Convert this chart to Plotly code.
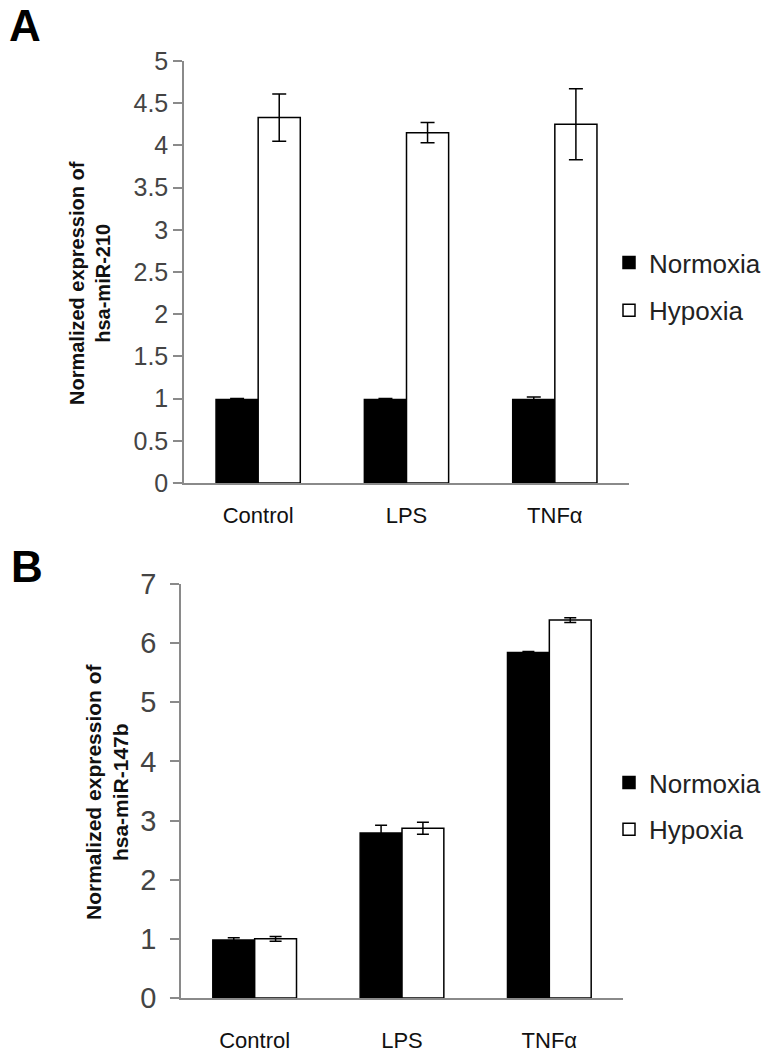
import plotly.graph_objects as go

# ---- data ----
categories = ["Control", "LPS", "TNFα"]

a_normoxia = [0.99, 0.99, 0.99]
a_normoxia_err = [0.01, 0.01, 0.03]
a_hypoxia = [4.33, 4.15, 4.25]
a_hypoxia_err = [0.28, 0.12, 0.42]

b_normoxia = [0.98, 2.79, 5.84]
b_normoxia_err = [0.04, 0.13, 0.02]
b_hypoxia = [1.00, 2.87, 6.39]
b_hypoxia_err = [0.04, 0.10, 0.04]

a_yticks = [0, 0.5, 1, 1.5, 2, 2.5, 3, 3.5, 4, 4.5, 5]
a_yticklabels = ["0", "0.5", "1", "1.5", "2", "2.5", "3", "3.5", "4", "4.5", "5"]
b_yticks = [0, 1, 2, 3, 4, 5, 6, 7]
b_yticklabels = ["0", "1", "2", "3", "4", "5", "6", "7"]

W, H = 780, 1054
FONT = "Liberation Sans, Arial, sans-serif"


def px_x(p):
    return p / W


def px_y(p):
    return 1 - p / H


fig = go.Figure()


def add_bars(xa, ya, norm, norm_err, hyp, hyp_err, legend, cap):
    fig.add_trace(go.Bar(
        x=categories, y=norm, name="Normoxia", xaxis=xa, yaxis=ya,
        marker=dict(color="black", line=dict(color="black", width=1.5)),
        error_y=dict(type="data", array=norm_err, color="black", thickness=1.5, width=cap),
        legend=legend, legendgroup=legend + "n", showlegend=True,
    ))
    fig.add_trace(go.Bar(
        x=categories, y=hyp, name="Hypoxia", xaxis=xa, yaxis=ya,
        marker=dict(color="white", line=dict(color="black", width=1.5)),
        error_y=dict(type="data", array=hyp_err, color="black", thickness=1.5, width=cap),
        legend=legend, legendgroup=legend + "h", showlegend=True,
    ))


add_bars("x", "y", a_normoxia, a_normoxia_err, a_hypoxia, a_hypoxia_err, "legend", 7)
add_bars("x2", "y2", b_normoxia, b_normoxia_err, b_hypoxia, b_hypoxia_err, "legend2", 6)

axis_gray = "#8a8a8a"

common_x = dict(showline=True, linecolor=axis_gray, linewidth=1.5, ticks="", showgrid=False,
                zeroline=False, automargin=False, tickfont=dict(size=22, color="#111"))
common_y = dict(showline=True, linecolor=axis_gray, linewidth=1.5, ticks="outside", ticklen=9,
                tickcolor=axis_gray, tickwidth=1.5, showgrid=False, zeroline=False,
                automargin=False)

fig.update_layout(
    template="none",
    width=W, height=H,
    margin=dict(l=0, r=0, t=0, b=0, pad=0),
    paper_bgcolor="white", plot_bgcolor="white",
    barmode="group", bargap=0.432, bargroupgap=0,
    font=dict(family=FONT, color="#222"),
    xaxis=dict(domain=[px_x(184), px_x(629)], anchor="y", ticklabelstandoff=12, **common_x),
    yaxis=dict(domain=[px_y(483), px_y(61)], anchor="x", range=[0, 5], tickvals=a_yticks,
               ticktext=a_yticklabels, tickfont=dict(size=25, color="#444"), **common_y),
    xaxis2=dict(domain=[px_x(181), px_x(623)], anchor="y2", ticklabelstandoff=22, **common_x),
    yaxis2=dict(domain=[px_y(998), px_y(584)], anchor="x2", range=[0, 7], tickvals=b_yticks,
                ticktext=b_yticklabels, tickfont=dict(size=29, color="#444"),
                ticklabelstandoff=8, **common_y),
    legend=dict(x=px_x(609), y=px_y(239), xanchor="left", yanchor="top",
                font=dict(size=26, color="#222"), bgcolor="rgba(0,0,0,0)",
                tracegroupgap=11, traceorder="grouped"),
    legend2=dict(x=px_x(609), y=px_y(759), xanchor="left", yanchor="top",
                 font=dict(size=26, color="#222"), bgcolor="rgba(0,0,0,0)",
                 tracegroupgap=10, traceorder="grouped"),
)

# small extension of x-axis line to the left of the y axis (as in reference)
fig.add_shape(type="line", xref="x domain", yref="y", x0=-0.025, x1=0, y0=0, y1=0,
              line=dict(color=axis_gray, width=1.5))
fig.add_shape(type="line", xref="x2 domain", yref="y2", x0=-0.025, x1=0, y0=0, y1=0,
              line=dict(color=axis_gray, width=1.5))

ann_common = dict(xref="paper", yref="paper", showarrow=False, xanchor="center",
                  yanchor="middle")
annotations = [
    dict(text="<b>A</b>", x=px_x(25), y=px_y(26),
         font=dict(size=44, color="black", family=FONT), **ann_common),
    dict(text="<b>B</b>", x=px_x(27), y=px_y(566),
         font=dict(size=44, color="black", family=FONT), **ann_common),
    dict(text="<b>Normalized expression of<br>hsa-miR-210</b>", x=px_x(90), y=px_y(283),
         textangle=-90, font=dict(size=20, color="#111", family=FONT), **ann_common),
    dict(text="<b>Normalized expression of<br>hsa-miR-147b</b>", x=px_x(107), y=px_y(792),
         textangle=-90, font=dict(size=21, color="#111", family=FONT), **ann_common),
]
fig.update_layout(annotations=annotations)

fig.write_html("out.html", config={"displayModeBar": False},
               post_script="document.body.style.margin='0';")
